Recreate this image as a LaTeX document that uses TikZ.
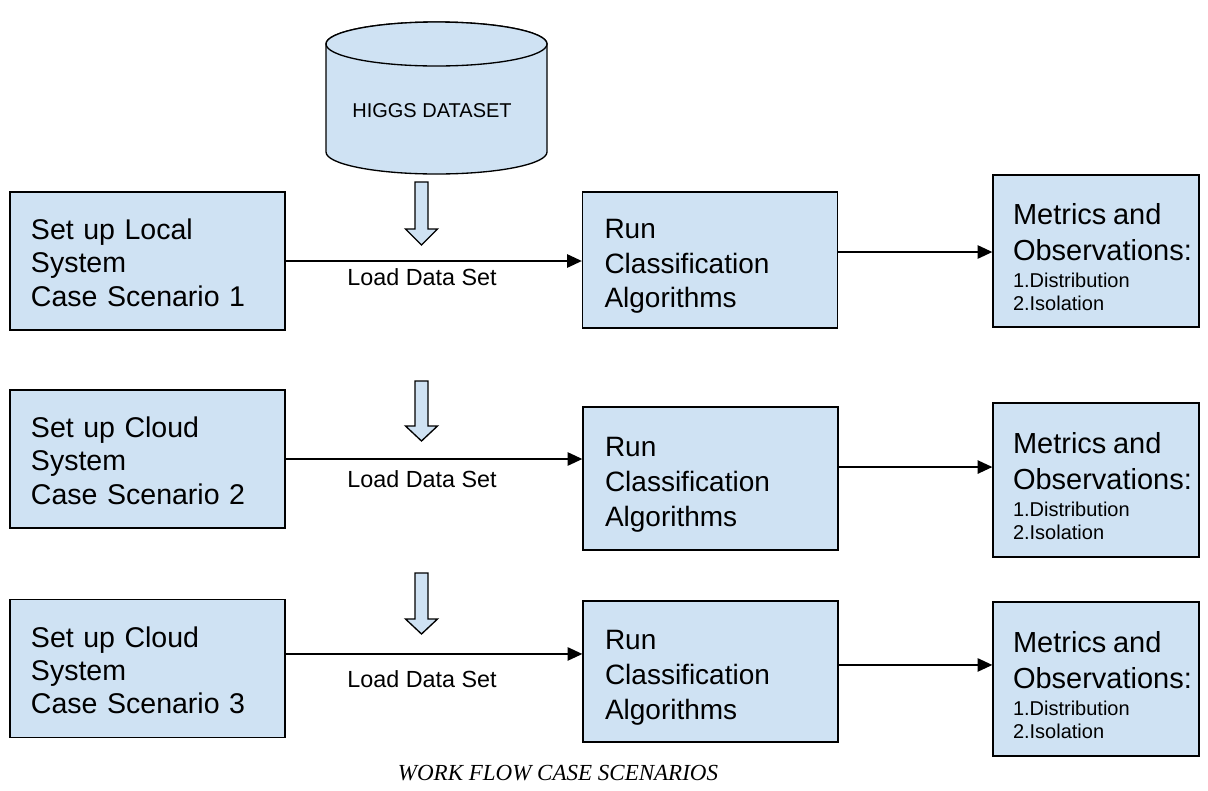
\documentclass[tikz,border=0pt]{standalone}
\usepackage{fontspec}
\setmainfont{Liberation Sans}
\newfontfamily\capfont{Liberation Serif}
\usetikzlibrary{arrows.meta}
\definecolor{boxblue}{RGB}{207,226,243}
\tikzset{
  box/.style={draw=black, fill=boxblue, line width=1pt, align=left, inner xsep=0pt, inner ysep=0pt},
  setbox/.style={box, minimum width=206.25pt, minimum height=103.5pt, text width=174.75pt, text height=18pt, font=\fontsize{21.4}{25}\selectfont},
  runbox/.style={box, minimum width=191.25pt, text width=158.25pt, text height=24pt, font=\fontsize{21}{26}\selectfont},
  obsbox/.style={box, minimum width=154.5pt, minimum height=115.5pt, text width=124.5pt, text height=25pt, font=\fontsize{15}{17.25}\selectfont},
  flow/.style={line width=1.1pt, -{Triangle[length=11pt,width=10pt]}},
  fat/.style={draw=black, fill=boxblue, line width=1pt},
  lbl/.style={font=\fontsize{17.5}{20}\selectfont},
}
\newcommand{\bigtxt}{\fontsize{21.75}{24.75}\selectfont}
\newcommand{\smalltxt}{\fontsize{15}{17.25}\selectfont}
\begin{document}
\begin{tikzpicture}[x=0.75pt, y=-0.75pt]
\useasboundingbox (0,0) rectangle (1208,790);
% dataset
\draw[fat] (326,44) -- (326,152) arc[start angle=180, end angle=0, x radius=110.5, y radius=22] -- (547,44) arc[start angle=0, end angle=-180, x radius=110.5, y radius=22] -- cycle;
\draw[fat] (436.5,44) ellipse [x radius=110.5, y radius=22];
\node (data) at (432,111) {\fontsize{15}{18}\selectfont HIGGS DATASET};
% load arrows
\draw[fat, shift={(421.5,182)}] (-6.5,0) -- (-6.5,47) -- (-16,47) -- (0,63) -- (16,47) -- (6.5,47) -- (6.5,0) -- cycle;
\draw[fat, shift={(421.5,381)}] (-6.5,0) -- (-6.5,45) -- (-16,45) -- (0,60) -- (16,45) -- (6.5,45) -- (6.5,0) -- cycle;
\draw[fat, shift={(421.5,573)}] (-6.5,0) -- (-6.5,46) -- (-16,46) -- (0,61) -- (16,46) -- (6.5,46) -- (6.5,0) -- cycle;
% row 1
\node[setbox] (set1) at (147.5,261) {Set up Local\\System\\Case Scenario 1};
\node[runbox, minimum height=102pt] (run1) at (710,260) {Run\\Classification\\Algorithms};
\node[obsbox, minimum height=114pt] (obs1) at (1096,251) {\bigtxt Metrics and\\[2.25pt]Observations:\\[3pt]\smalltxt 1.Distribution\\2.Isolation};
\draw[flow] (set1.east) -- (set1.east -| run1.west);
\node[lbl] (load1) at (422,277) {Load Data Set};
\coordinate (m1) at ([yshift=6pt]run1.east);
\draw[flow] (m1) -- (m1 -| obs1.west);
% row 2
\node[setbox] (set2) at (147.5,459) {Set up Cloud\\System\\Case Scenario 2};
\node[runbox, minimum height=107.25pt] (run2) at (710.5,478.5) {Run\\Classification\\Algorithms};
\node[obsbox] (obs2) at (1096,480) {\bigtxt Metrics and\\[2.25pt]Observations:\\[3pt]\smalltxt 1.Distribution\\2.Isolation};
\draw[flow] (set2.east) -- (set2.east -| run2.west);
\node[lbl] (load2) at (422,479) {Load Data Set};
\coordinate (m2) at ([yshift=8.6pt]run2.east);
\draw[flow] (m2) -- (m2 -| obs2.west);
% row 3
\node[setbox] (set3) at (147.5,668.5) {Set up Cloud\\System\\Case Scenario 3};
\node[runbox, minimum height=105.75pt] (run3) at (710.5,671.5) {Run\\Classification\\Algorithms};
\node[obsbox] (obs3) at (1096,679) {\bigtxt Metrics and\\[2.25pt]Observations:\\[3pt]\smalltxt 1.Distribution\\2.Isolation};
\coordinate (s3) at ([yshift=10.9pt]set3.east);
\draw[flow] (s3) -- (s3 -| run3.west);
\node[lbl] (load3) at (422,679) {Load Data Set};
\coordinate (m3) at ([yshift=4.9pt]run3.east);
\draw[flow] (m3) -- (m3 -| obs3.west);
% caption
\node (caption) at (558,773) {\capfont\itshape\fontsize{17.25}{20}\selectfont WORK FLOW CASE SCENARIOS};
\end{tikzpicture}
\end{document}
